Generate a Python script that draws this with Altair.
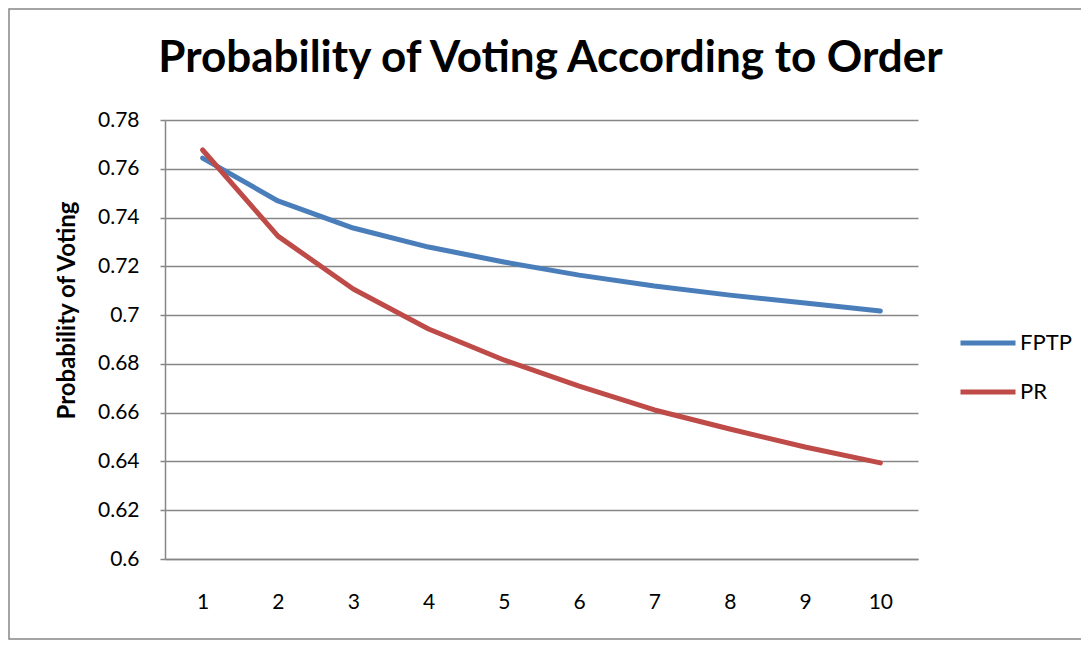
import altair as alt
import pandas as pd

orders = [1, 2, 3, 4, 5, 6, 7, 8, 9, 10]
fptp = [0.7644, 0.7468, 0.7357, 0.7279, 0.7218, 0.7164, 0.7119, 0.7082, 0.7050, 0.7017]
pr = [0.7677, 0.7324, 0.7107, 0.6943, 0.6816, 0.6709, 0.6611, 0.6533, 0.6459, 0.6394]
series = ["FPTP", "PR"]
colors = ["#4A7EBB", "#BE4B48"]
y_ticks = [0.6, 0.62, 0.64, 0.66, 0.68, 0.7, 0.72, 0.74, 0.76, 0.78]

rows = []
for o, v in zip(orders, fptp):
    rows.append({"Order": o, "Series": "FPTP", "Value": v})
for o, v in zip(orders, pr):
    rows.append({"Order": o, "Series": "PR", "Value": v})
df = pd.DataFrame(rows)

FONT = "Lato"
W, H = 753, 439
PL, PT, PR_, PB = 157, 112, 163, 81

lines = alt.Chart(df).mark_line(strokeWidth=5, strokeCap="round", strokeJoin="round").encode(
    x=alt.X("Order:O", scale=alt.Scale(type="point", padding=0.5),
            axis=alt.Axis(title=None, labelAngle=0, ticks=False, labelPadding=32,
                          domainColor="#868686", domainWidth=1.5, grid=False,
                          labelFont=FONT, labelFontSize=21, labelColor="#000000")),
    y=alt.Y("Value:Q", scale=alt.Scale(domain=[0.6, 0.78], nice=False, zero=False),
            axis=alt.Axis(title="Probability of Voting", values=y_ticks, format=".2~f",
                          tickSize=5, tickColor="#868686", tickWidth=1.5,
                          domainColor="#868686", domainWidth=1.5,
                          gridColor="#868686", gridWidth=1.5,
                          labelPadding=21, labelFont=FONT, labelFontSize=21, labelColor="#000000",
                          titleFont=FONT, titleFontSize=24, titleFontWeight="bold",
                          titleColor="#000000", titleX=-98, titleY=190,
                          titleAlign="center", titleBaseline="middle", titleAngle=-90)),
    color=alt.Color("Series:N", scale=alt.Scale(domain=series, range=colors),
                    legend=alt.Legend(title=None, orient="none", legendX=793, legendY=193,
                                      symbolType="stroke", symbolSize=3025, symbolStrokeWidth=5,
                                      labelFont=FONT, labelFontSize=22, labelColor="#000000",
                                      labelOffset=2, rowPadding=8)),
)

border = alt.Chart(alt.Data(values=[{}])).mark_rect(
    fill=None, stroke="#868686", strokeWidth=1.5, clip=False
).encode(
    x=alt.value(-156), x2=alt.value(W + PR_ + 10),
    y=alt.value(-111), y2=alt.value(H + PB - 1),
)

chart = alt.layer(border, lines).properties(
    width=W, height=H,
    padding={"left": PL, "top": PT, "right": PR_, "bottom": PB},
    autosize=alt.AutoSizeParams(type="none"),
    title=alt.TitleParams("Probability of Voting According to Order", font=FONT, fontSize=44,
                          fontWeight="bold", color="#000000", anchor="middle", offset=40,
                          dy=113, dx=9),
).configure_view(stroke=None)

chart.save("out.html", embed_options={"renderer": "svg", "actions": False})
